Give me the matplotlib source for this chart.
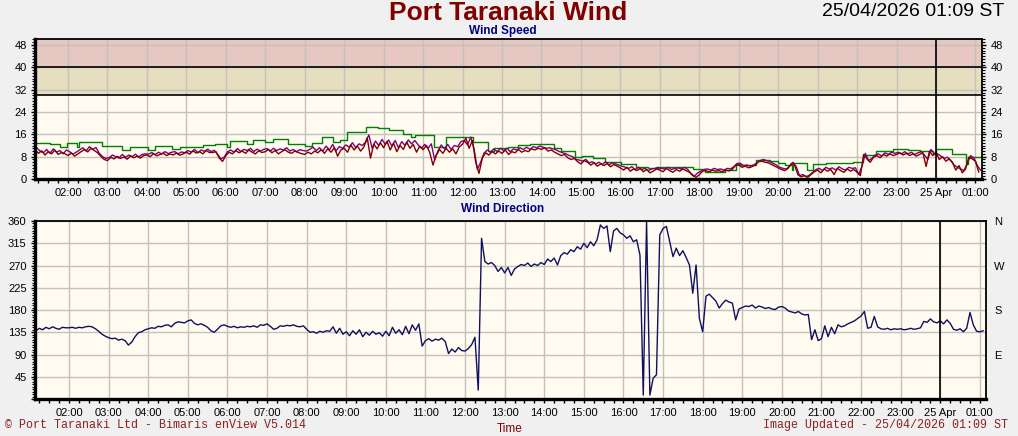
import numpy as np
import matplotlib
matplotlib.use("Agg")
import matplotlib.pyplot as plt
from matplotlib.ticker import MultipleLocator, FixedLocator

# ---------------- data (5-minute samples from 24 Apr 01:10) ----------------
speed_avg_rows = [
    [10.5, 9.2, 10.1, 8.6, 9.8, 9.0, 10.4, 8.8, 9.5, 9.1],                 # 01:10-01:55
    [8.4, 9.3, 8.2, 9.0, 9.8, 10.6, 9.7, 11.0, 10.2, 9.4, 8.1, 7.0],        # 02
    [6.6, 7.8, 7.2, 8.1, 7.4, 7.9, 7.1, 8.3, 7.6, 8.2, 7.5, 8.4],           # 03
    [8.6, 8.0, 9.1, 8.3, 8.8, 9.2, 8.4, 9.0, 8.6, 9.3, 8.5, 9.0],           # 04
    [9.6, 8.9, 10.1, 9.3, 9.8, 9.0, 10.2, 9.5, 9.5, 9.8, 7.5, 6.3],         # 05
    [8.4, 9.6, 9.0, 10.2, 9.4, 10.0, 9.2, 10.4, 9.6, 9.0, 10.1, 9.5],       # 06
    [9.8, 10.6, 9.4, 10.2, 9.0, 9.8, 10.5, 9.6, 9.2, 10.0, 9.5, 9.1],       # 07
    [8.8, 9.6, 9.0, 10.0, 9.4, 10.5, 9.2, 10.8, 9.6, 11.2, 8.2, 10.4],      # 08
    [11.0, 9.6, 12.2, 10.4, 11.8, 10.0, 11.5, 14.8, 7.5, 12.5, 10.8, 13.0], # 09
    [11.2, 13.5, 10.4, 12.8, 9.8, 12.0, 10.6, 13.2, 11.0, 12.4, 9.6, 11.8], # 10
    [10.5, 12.0, 9.6, 5.0, 8.5, 10.6, 9.2, 11.0, 9.6, 10.8, 9.0, 11.5],     # 11
    [12.5, 14.6, 11.0, 13.8, 6.0, 2.0, 7.5, 9.4, 8.6, 9.8, 9.0, 10.0],      # 12
    [9.2, 10.4, 8.8, 9.8, 9.4, 10.6, 9.6, 10.2, 9.8, 10.8, 10.4, 11.0],     # 13
    [10.6, 11.2, 10.0, 10.4, 9.6, 9.0, 8.4, 8.8, 7.6, 7.0, 7.4, 6.2],       # 14
    [5.4, 6.6, 6.0, 5.0, 5.8, 4.6, 5.4, 4.8, 5.6, 4.4, 5.2, 4.6],           # 15
    [4.0, 3.2, 4.2, 2.8, 3.6, 3.0, 3.8, 2.6, 3.4, 2.2, 2.8, 3.6],           # 16
    [3.2, 2.6, 3.8, 3.0, 2.4, 3.4, 2.8, 3.6, 3.0, 2.4, 1.2, 0.6],           # 17
    [1.5, 2.8, 3.0, 2.6, 3.2, 2.8, 3.0, 2.6, 3.2, 2.9, 3.4, 4.8],           # 18
    [5.0, 4.2, 4.6, 4.0, 4.4, 5.0, 6.2, 6.4, 6.0, 5.8, 5.2, 4.6],           # 19
    [4.0, 3.4, 3.0, 3.8, 5.6, 5.0, 1.5, 0.8, 1.2, 0.6, 1.6, 2.6],           # 20
    [3.2, 2.2, 3.6, 2.8, 3.4, 1.6, 3.8, 3.0, 2.4, 3.6, 2.8, 3.4],           # 21
    [2.4, 1.2, 8.8, 7.2, 6.0, 7.8, 8.4, 7.6, 8.8, 8.2, 9.0, 8.4],           # 22
    [8.8, 9.4, 8.6, 9.2, 8.4, 9.0, 8.2, 8.8, 9.4, 4.5, 10.0, 8.4],          # 23
    [9.6, 7.0, 8.0, 6.4, 7.2, 6.0, 3.2, 4.8, 2.2, 3.6, 7.8, 7.2],           # 00 (25 Apr)
    [6.4, 2.5],                                                             # 01
]

speed_max_rows = [
    [11.2, 10.0, 9.4, 10.6, 9.2, 10.8, 9.6, 10.2, 9.0, 10.4],
    [9.8, 8.9, 9.6, 10.4, 11.2, 10.0, 11.6, 10.6, 11.3, 9.2, 8.0, 7.4],
    [7.6, 8.6, 8.0, 7.5, 8.8, 7.8, 8.6, 8.0, 8.9, 7.9, 8.8, 9.0],
    [8.9, 9.5, 8.7, 9.6, 9.0, 9.8, 9.1, 9.6, 9.8, 9.0, 9.7, 9.4],
    [10.2, 9.6, 10.6, 9.4, 10.4, 9.9, 10.7, 9.8, 10.3, 8.8, 7.2, 7.8],
    [9.8, 10.4, 9.6, 10.9, 9.9, 10.6, 10.2, 11.0, 9.8, 10.7, 10.0, 10.6],
    [10.9, 10.0, 11.0, 10.2, 10.8, 10.4, 11.2, 10.0, 10.6, 9.8, 10.5, 10.2],
    [10.0, 10.6, 11.4, 10.2, 11.2, 10.0, 11.8, 10.4, 12.4, 10.0, 11.6, 11.0],
    [12.2, 11.4, 13.0, 11.2, 12.6, 12.0, 13.2, 15.8, 11.0, 13.6, 12.0, 14.2],
    [12.4, 14.0, 11.8, 13.8, 11.2, 13.4, 12.0, 14.0, 12.6, 13.8, 12.2, 11.0],
    [12.4, 11.0, 12.6, 7.0, 10.0, 12.2, 10.8, 12.4, 10.6, 12.0, 11.6, 13.4],
    [13.8, 12.2, 15.0, 10.8, 3.5, 6.0, 9.2, 10.4, 9.6, 10.8, 9.8, 11.0],
    [10.2, 11.0, 9.8, 10.8, 10.4, 11.2, 10.6, 11.4, 10.6, 11.6, 11.2, 11.8],
    [11.4, 11.0, 11.2, 10.8, 10.4, 9.8, 9.4, 9.0, 8.4, 8.0, 7.0, 6.8],
    [6.4, 7.0, 5.8, 6.2, 5.4, 6.0, 5.2, 6.2, 5.0, 5.8, 5.4, 5.0],
    [4.6, 4.2, 3.8, 4.4, 3.4, 4.2, 3.4, 3.8, 3.0, 3.6, 3.8, 4.2],
    [3.8, 3.6, 4.2, 3.4, 3.8, 4.0, 3.6, 4.2, 3.4, 2.0, 1.0, 2.2],
    [2.8, 3.4, 3.6, 3.2, 3.8, 3.4, 3.6, 3.2, 3.8, 3.6, 4.4, 5.6],
    [5.6, 4.8, 5.0, 4.6, 5.0, 5.8, 6.6, 7.0, 6.6, 6.2, 5.6, 5.0],
    [4.2, 3.8, 3.6, 4.6, 6.0, 4.4, 1.2, 1.6, 0.8, 1.4, 2.4, 3.4],
    [3.8, 3.0, 4.2, 3.6, 4.0, 3.2, 4.4, 3.6, 3.2, 4.2, 3.8, 4.0],
    [1.6, 4.6, 9.2, 6.6, 7.4, 8.6, 9.0, 8.2, 9.4, 8.8, 9.6, 9.2],
    [9.6, 9.0, 9.8, 9.0, 9.6, 8.8, 9.4, 9.8, 8.6, 7.0, 10.6, 9.0],
    [9.0, 8.2, 7.4, 7.8, 6.6, 5.0, 4.2, 3.6, 3.0, 5.6, 8.4, 7.6],
    [5.0, 3.2],
]

# green gust line: (hour, value) step breakpoints
gust_hours = [1.16, 1.54, 1.80, 1.97, 2.23, 2.28, 2.85, 3.36, 3.57, 4.03, 4.20,
              4.63, 4.84, 5.42, 5.73, 6.02, 6.11, 6.53, 6.69, 6.99, 7.19, 7.58,
              8.00, 8.18, 8.43, 8.72, 8.90, 9.08, 9.55, 9.85, 10.14, 10.48, 10.69,
              10.80, 11.28, 11.58, 12.26, 12.64, 12.80, 13.14, 13.40, 13.70,
              14.33, 14.50, 14.85, 15.02, 15.30, 15.60, 16.02, 16.40, 16.70,
              17.00, 17.85, 18.14, 18.65, 18.93, 19.03, 19.45, 19.80, 20.00,
              20.17, 20.34, 20.38, 20.72, 20.89, 21.22, 21.90, 22.15, 22.48,
              22.91, 23.30, 23.60, 23.93, 24.00, 24.40, 24.77, 24.82, 25.12]
gust_values = [13.0, 12.4, 11.4, 13.0, 11.6, 13.4, 11.9, 10.4, 11.5, 10.4, 11.8,
               10.7, 11.5, 12.2, 12.5, 11.5, 13.7, 12.5, 14.1, 13.1, 14.3, 12.5,
               11.9, 13.0, 15.0, 13.1, 14.0, 16.7, 18.5, 18.2, 17.5, 16.1, 15.2,
               15.6, 11.4, 15.2, 13.1, 10.2, 11.0, 11.6, 12.2, 12.4,
               11.0, 10.0, 8.0, 8.4, 7.4, 6.2, 5.3, 4.4, 3.8,
               4.4, 3.6, 2.6, 3.4, 5.3, 5.0, 6.9, 6.3, 5.8,
               5.0, 3.4, 5.9, 3.2, 5.3, 5.6, 6.2, 8.6, 10.0,
               10.8, 10.3, 9.9, 8.8, 10.6, 8.8, 5.3, 8.0, 8.0]

direction_rows = [
    [138, 143, 140, 145, 142, 146, 143, 141, 145, 144],
    [144, 145, 143, 145, 144, 146, 147, 146, 142, 137, 131, 127],
    [124, 122, 123, 119, 121, 118, 109, 115, 126, 134, 136, 140],
    [142, 144, 143, 147, 146, 149, 150, 146, 153, 156, 155, 154],
    [158, 160, 153, 150, 152, 149, 145, 138, 135, 141, 148, 150],
    [147, 145, 147, 144, 146, 145, 147, 146, 148, 145, 150, 149],
    [152, 147, 141, 143, 148, 147, 149, 148, 150, 147, 146, 148],
    [141, 135, 136, 133, 137, 135, 138, 137, 146, 133, 143, 131],
    [136, 128, 138, 131, 140, 126, 135, 129, 137, 131, 134, 127],
    [137, 128, 145, 133, 140, 130, 147, 132, 150, 139, 152, 107],
    [118, 122, 117, 121, 119, 123, 116, 92, 101, 95, 104, 98],
    [97, 102, 110, 125, 18, 325, 278, 273, 276, 270, 258, 266],
    [255, 266, 250, 263, 268, 272, 270, 275, 268, 273, 270, 276],
    [272, 283, 278, 285, 271, 290, 296, 293, 302, 298, 308, 303],
    [315, 306, 318, 310, 322, 352, 345, 350, 298, 340, 345, 336],
    [332, 325, 330, 318, 322, 291, 8, 359, 8, 42, 49, 332],
    [345, 349, 318, 288, 305, 290, 300, 286, 271, 214, 271, 163],
    [136, 208, 212, 205, 198, 184, 193, 200, 196, 194, 160, 182],
    [185, 188, 187, 190, 184, 188, 186, 183, 185, 182, 181, 186],
    [187, 184, 178, 176, 174, 177, 172, 170, 171, 120, 140, 118],
    [122, 148, 126, 145, 132, 150, 146, 148, 152, 155, 158, 163],
    [168, 177, 143, 145, 167, 146, 142, 141, 143, 140, 142, 141],
    [142, 140, 141, 143, 141, 142, 144, 157, 155, 162, 156, 154],
    [158, 152, 160, 153, 141, 139, 142, 136, 143, 175, 150, 137],
    [136, 138],
]

hour_labels = ["02:00", "03:00", "04:00", "05:00", "06:00", "07:00", "08:00",
               "09:00", "10:00", "11:00", "12:00", "13:00", "14:00", "15:00",
               "16:00", "17:00", "18:00", "19:00", "20:00", "21:00", "22:00",
               "23:00", "25 Apr", "01:00"]
speed_ticks = [0, 8, 16, 24, 32, 40, 48]
dir_ticks = [0, 45, 90, 135, 180, 225, 270, 315, 360]
dir_left_labels = ["", "45", "90", "135", "180", "225", "270", "315", "360"]
dir_right_labels = ["", "", "E", "", "S", "", "W", "", "N"]

speed_avg = np.concatenate([np.array(r, float) for r in speed_avg_rows])
speed_max = np.concatenate([np.array(r, float) for r in speed_max_rows])
direction = np.concatenate([np.array(r, float) for r in direction_rows])
assert len(speed_avg) == 288 and len(speed_max) == 288 and len(direction) == 288

t0 = 1 + 10 / 60.0
t = t0 + np.arange(288) / 12.0
t_max = t + 2.5 / 60.0

# ---------------- figure ----------------
W, H = 1018, 436
fig = plt.figure(figsize=(W / 100, H / 100), dpi=100)
fig.patch.set_facecolor("#f0f0f0")
plt.rcParams["font.family"] = ["Liberation Sans", "DejaVu Sans"]

def fig_rect(l, r, top, bot):
    return [l / W, 1 - bot / H, (r - l) / W, (bot - top) / H]

FACE = "#fffbf0"
GRID = "#c4c0bc"
hour_ticks = list(range(2, 26))

def style_axes(ax):
    ax.set_facecolor(FACE)
    ax.set_axisbelow(True)
    ax.grid(True, which="major", color=GRID, lw=1.0, zorder=0.5)
    for s in ("left", "bottom"):
        ax.spines[s].set_linewidth(2.4)
    for s in ("top", "right"):
        ax.spines[s].set_linewidth(1.3)
    ax.xaxis.set_major_locator(FixedLocator(hour_ticks))
    ax.set_xticklabels(hour_labels)
    ax.xaxis.set_minor_locator(MultipleLocator(0.25))
    ax.tick_params(axis="x", which="both", direction="out", length=3, width=1,
                   labelsize=8, pad=3.5)
    ax.tick_params(axis="y", which="major", direction="out", length=3, width=1,
                   labelsize=8, pad=3, right=True)
    ax.tick_params(axis="y", which="minor", direction="out", length=2, width=0.8,
                   right=True)
    ax.axvline(24, color="black", lw=1.2, zorder=3)

# ---- wind speed ----
ax1 = fig.add_axes(fig_rect(35, 982, 39.5, 179))
style_axes(ax1)
ax1.set_xlim(1.163, 25.166)
ax1.set_ylim(0, 50)
ax1.axhspan(40, 50, color="#e6c7c1", zorder=0.2, lw=0)
ax1.axhspan(30, 40, color="#e5dfbf", zorder=0.2, lw=0)
ax1.axhline(30, color="black", lw=1.2, zorder=1)
ax1.axhline(40, color="black", lw=1.2, zorder=1)
ax1.set_yticks(speed_ticks)
ax1.yaxis.set_minor_locator(MultipleLocator(1))
ax1.tick_params(axis="y", labelright=True)
ax1.plot(gust_hours, gust_values, drawstyle="steps-post", color="#008000", lw=1.0, zorder=2)
ax1.plot(t, speed_avg, color="#800000", lw=1.0, zorder=2.2)
ax1.plot(t_max, speed_max, color="#800080", lw=1.0, zorder=2.1)

# ---- wind direction ----
ax2 = fig.add_axes(fig_rect(35, 986, 221, 399))
style_axes(ax2)
ax2.set_xlim(1.141, 25.154)
ax2.set_ylim(0, 360)
ax2.set_yticks(dir_ticks)
ax2.set_yticklabels(dir_left_labels)
ax2.yaxis.set_minor_locator(MultipleLocator(5))
ax2.tick_params(axis="y", right=True, labelright=False)
ax2.plot(t, direction, color="#101060", lw=1.0, zorder=2)

ax2r = ax2.twinx()
ax2r.set_ylim(0, 360)
ax2r.set_yticks(dir_ticks)
ax2r.set_yticklabels(dir_right_labels)
ax2r.tick_params(axis="y", length=0, labelsize=8, pad=6)
for s in ax2r.spines.values():
    s.set_visible(False)

# ---------------- texts ----------------
def ftext(x, y, s, **kw):
    fig.text(x / W, 1 - y / H, s, **kw)

ftext(508, 19.6, "Port Taranaki Wind", ha="center", va="baseline",
      fontsize=19, fontweight="bold", color="#800000")
ftext(1004, 16, "25/04/2026 01:09 ST", ha="right", va="baseline",
      fontsize=14, color="black")
ftext(503, 34, "Wind Speed", ha="center", va="baseline", fontsize=8.5,
      fontweight="bold", color="#000080")
ftext(503, 211.7, "Wind Direction", ha="center", va="baseline", fontsize=8.5,
      fontweight="bold", color="#000080")
ftext(510, 432, "Time", ha="center", va="baseline", fontsize=8.5, color="#800000")
ftext(5, 427.5, "\u00a9 Port Taranaki Ltd - Bimaris enView V5.014", ha="left",
      va="baseline", fontsize=8.4, family="Liberation Mono", color="#8b2020")
ftext(1008, 427.5, "Image Updated - 25/04/2026 01:09 ST", ha="right",
      va="baseline", fontsize=8.4, family="Liberation Mono", color="#8b2020")

fig.savefig("out.png", dpi=100, facecolor=fig.get_facecolor())
